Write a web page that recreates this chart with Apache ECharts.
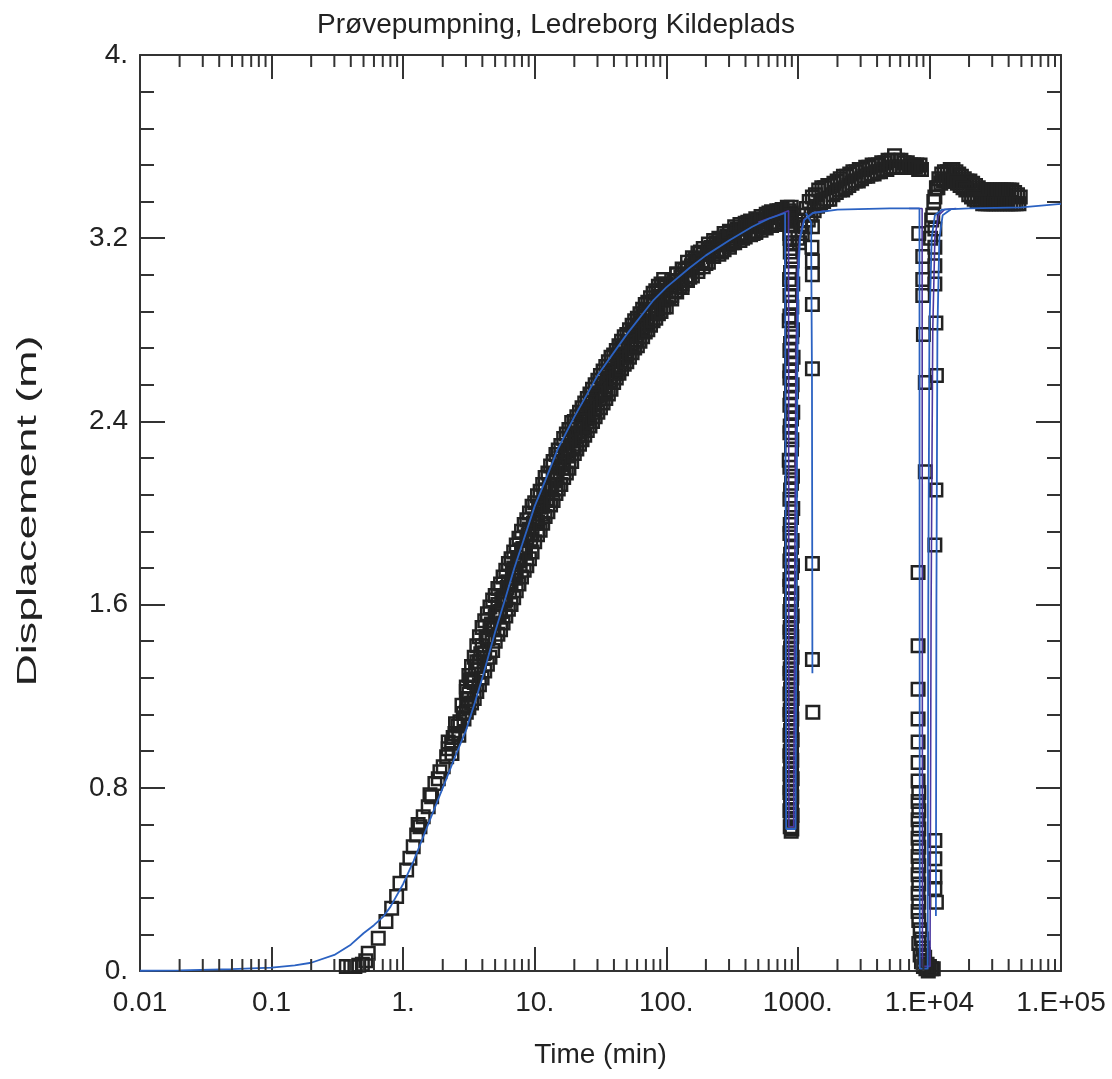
<!DOCTYPE html>
<html>
<head>
<meta charset="utf-8">
<script src="https://cdn.jsdelivr.net/npm/echarts@6/dist/echarts.min.js"></script>
<style>
html,body{margin:0;padding:0;background:#fff;}
#chart{width:1112px;height:1079px;}
</style>
</head>
<body>
<div id="chart"></div>
<script>
// ---------- axis labels ----------
const chartTitle = 'Prøvepumpning, Ledreborg Kildeplads';
const xName = 'Time (min)';
const yName = 'Displacement (m)';
const xLabels = ['0.01','0.1','1.','10.','100.','1000.','1.E+04','1.E+05'];
const yLabels = ['0.','0.8','1.6','2.4','3.2','4.'];
const decades = [0.01,0.1,1,10,100,1000,10000];
const minorMultipliers = [2,3,4,5,6,7,8,9];

// ---------- observed data (time [min], displacement [m]) ----------
const obsEarly = [
  [0.37,0.02],[0.40,0.02],[0.43,0.02],[0.46,0.025],[0.49,0.03],[0.52,0.045],
  [0.543,0.077],[0.647,0.143],[0.74,0.216],[0.818,0.274],[0.892,0.325],[0.946,0.383],
  [1.063,0.441],[1.126,0.492],[1.193,0.543],[1.267,0.594],[1.342,0.630],[1.421,0.674],
  [1.551,0.717],[1.647,0.761],[1.744,0.819],[1.904,0.870],[2.017,0.892],[2.141,0.936],
  [2.336,0.994],[2.475,1.037],[2.701,1.088],[2.862,1.125],[3.038,1.161],
  [1.30,0.64],[1.60,0.77],[2.20,0.97],[2.60,1.07],[1.85,0.84],[2.40,1.02],
  [2.20,1.00],[2.50,1.08],[2.80,1.16],[2.35,0.95],[2.65,1.03],[2.90,1.10]
];
const obsRise = [
  [3.02,1.22],[3.16,1.21],[3.31,1.27],[3.47,1.26],[3.63,1.35],[3.80,1.35],[3.98,1.42],[4.17,1.39],
  [4.37,1.45],[4.57,1.50],[4.79,1.49],[5.01,1.55],[5.25,1.60],[5.50,1.57],[5.75,1.63],[6.03,1.62],
  [6.31,1.70],[6.61,1.69],[6.92,1.76],[7.24,1.73],[7.59,1.79],[7.94,1.84],[8.32,1.83],[8.71,1.88],
  [9.12,1.93],[9.55,1.91],[10.0,1.97],[10.5,1.96],[11.0,2.03],[11.5,2.03],[12.0,2.10],[12.6,2.06],
  [13.2,2.12],[13.8,2.16],[14.5,2.15],[15.1,2.20],[15.8,2.24],[16.6,2.22],[17.4,2.27],[18.2,2.25],
  [19.1,2.33],[20.0,2.32],[20.9,2.38],[21.9,2.34],[22.9,2.39],[24.0,2.43],[25.1,2.41],[26.3,2.46],
  [27.5,2.50],[28.8,2.47],[30.2,2.52],[31.6,2.52],[33.1,2.58],[34.7,2.55],[36.3,2.62],[38.0,2.59],
  [39.8,2.64],[41.7,2.62],[43.7,2.69],[45.7,2.68],[47.9,2.73],[50.1,2.69],[52.5,2.77],[55.0,2.74],
  [57.5,2.79],[60.3,2.79],[63.1,2.83],[66.1,2.81],[69.2,2.88],[72.4,2.83],[75.9,2.88],[79.4,2.92],
  [83.2,2.89],[87.1,2.94],[91.2,2.97],[95.5,2.93],[100,2.97],[105,2.94],[110,2.95],[115,3.01],
  [120,3.04],[126,2.99],[132,3.00],[138,3.06],[145,3.07],[151,3.03],[158,3.10],[166,3.11],
  [174,3.07],[182,3.14],[191,3.13],[200,3.09],[209,3.15],[219,3.16],[229,3.12],[240,3.18],
  [251,3.17],[263,3.14],[275,3.20],[288,3.21],[302,3.17],[316,3.18],[331,3.23],[347,3.24],
  [363,3.21],[380,3.20],[398,3.24],[417,3.27],[437,3.26],[457,3.22],[479,3.23],[501,3.28],
  [525,3.28],[550,3.25],[575,3.28],[603,3.31],[631,3.30],[661,3.26],[692,3.27],[724,3.32],
  [759,3.31],[795,3.28],[832,3.29],[860,3.32],[891,3.31]
];
const obsRiseB = [
  [3.09,1.19],[3.24,1.27],[3.39,1.265],[3.55,1.33],[3.72,1.315],[3.89,1.385],[4.07,1.385],[4.27,1.46],
  [4.47,1.455],[4.68,1.515],[4.90,1.50],[5.13,1.565],[5.37,1.56],[5.62,1.625],[5.89,1.615],[6.17,1.675],
  [6.46,1.66],[6.76,1.74],[7.08,1.735],[7.41,1.795],[7.76,1.775],[8.13,1.845],[8.51,1.84],[8.91,1.905],
  [9.33,1.885],[9.77,1.955],[10.2,1.955],[10.7,2.025],[11.2,1.995],[11.7,2.065],[12.3,2.06],[12.9,2.125],
  [13.5,2.10],[14.1,2.165],[14.8,2.16],[15.5,2.225],[16.2,2.195],[17.0,2.26],[17.8,2.25],[18.6,2.315],
  [19.5,2.29],[20.4,2.35],[21.4,2.34],[22.4,2.40],[23.4,2.37],[24.5,2.43],[25.7,2.42],[26.9,2.48],
  [28.2,2.45],[29.5,2.51],[30.9,2.50],[32.4,2.56],[33.9,2.53],[35.5,2.59],[37.2,2.58],[38.9,2.64],
  [40.7,2.61],[42.7,2.67],[44.7,2.66],[46.8,2.72],[49.0,2.685],[51.3,2.74],[53.7,2.73],[56.2,2.79],
  [58.9,2.755],[61.7,2.81],[64.6,2.80],[67.6,2.86],[70.8,2.825],[74.1,2.88],[77.6,2.87],[81.3,2.925],
  [85.1,2.89],[89.1,2.945],[93.3,2.93],[97.7,2.985],[107,2.99],[117,2.97],[129,3.03],[141,3.02],
  [155,3.08],[170,3.09],[186,3.10],[204,3.13],[224,3.14],[245,3.15],[269,3.18],[295,3.19],
  [324,3.20],[355,3.22],[389,3.22],[427,3.25],[468,3.26],[513,3.26],[562,3.27],[617,3.29],
  [676,3.29],[741,3.29],[813,3.31],[876,3.29]
];
// upper-left edge of the scattered band
const obsRiseUpper = [
  [3.02,1.24],[3.16,1.29],[3.31,1.33],[3.47,1.37],[3.63,1.42],[3.80,1.46],[3.98,1.50],[4.17,1.53],
  [4.37,1.56],[4.57,1.59],[4.79,1.62],[5.01,1.64],[5.25,1.67],[5.50,1.69],[5.75,1.72],[6.03,1.75],
  [6.31,1.78],[6.61,1.80],[6.92,1.83],[7.24,1.86],[7.59,1.89],[7.94,1.92],[8.32,1.95],[8.71,1.97],
  [9.12,2.00],[9.55,2.03],[10.0,2.045],[10.5,2.075],[11.0,2.095],[11.5,2.125],[12.0,2.155],[12.6,2.175],
  [13.2,2.205],[13.8,2.225],[14.5,2.255],[15.1,2.275],[15.8,2.295],[16.6,2.325],[17.4,2.345],[18.2,2.365],
  [19.1,2.395],[20.0,2.40],[20.9,2.42],[21.9,2.44],[22.9,2.46],[24.0,2.48],[25.1,2.50],[26.3,2.52],
  [27.5,2.54],[28.8,2.56],[30.2,2.58],[31.6,2.60],[33.1,2.62],[34.7,2.64],[36.3,2.66],[38.0,2.68],
  [39.8,2.69],[41.7,2.71],[43.7,2.73],[45.7,2.75],[47.9,2.77],[50.1,2.78],[52.5,2.80],[55.0,2.82],
  [57.5,2.84],[60.3,2.85],[63.1,2.87],[66.1,2.89],[69.2,2.91],[72.4,2.92],[75.9,2.94],[79.4,2.96],
  [83.2,2.97],[87.1,2.99],[91.2,3.00],[95.5,3.02],[100,3.00],[110,3.015],[120,3.045],[132,3.065],
  [145,3.095],[158,3.115],[174,3.135],[191,3.155],[209,3.175],[229,3.19],[251,3.20],[275,3.22],
  [302,3.23],[331,3.25],[363,3.26],[398,3.265],[437,3.275],[479,3.285],[525,3.295],[575,3.305],
  [631,3.315],[692,3.32],[759,3.325],[832,3.335],[891,3.335]
];
// lower-right edge of the scattered band
const obsRiseLower = [
  [3.02,1.13],[3.16,1.15],[3.31,1.17],[3.47,1.19],[3.63,1.22],[3.80,1.25],[3.98,1.28],[4.17,1.31],
  [4.37,1.34],[4.57,1.37],[4.79,1.40],[5.01,1.44],[5.25,1.47],[5.50,1.49],[5.75,1.52],[6.03,1.55],
  [6.31,1.58],[6.61,1.60],[6.92,1.63],[7.24,1.66],[7.59,1.69],[7.94,1.72],[8.32,1.75],[8.71,1.77],
  [9.12,1.80],[9.55,1.83],[10.0,1.875],[10.5,1.905],[11.0,1.925],[11.5,1.955],[12.0,1.985],[12.6,2.005],
  [13.2,2.035],[13.8,2.055],[14.5,2.085],[15.1,2.105],[15.8,2.125],[16.6,2.155],[17.4,2.175],[18.2,2.195],
  [19.1,2.225],[20.0,2.26],[20.9,2.28],[21.9,2.30],[22.9,2.32],[24.0,2.34],[25.1,2.36],[26.3,2.38],
  [27.5,2.40],[28.8,2.42],[30.2,2.44],[31.6,2.46],[33.1,2.48],[34.7,2.50],[36.3,2.52],[38.0,2.54],
  [39.8,2.57],[41.7,2.59],[43.7,2.61],[45.7,2.63],[47.9,2.65],[50.1,2.66],[52.5,2.68],[55.0,2.70],
  [57.5,2.72],[60.3,2.73],[63.1,2.75],[66.1,2.77],[69.2,2.79],[72.4,2.80],[75.9,2.82],[79.4,2.84],
  [83.2,2.85],[87.1,2.87],[91.2,2.88],[95.5,2.90],[100,2.90],[110,2.935],[120,2.965],[132,2.985],
  [145,3.015],[158,3.035],[174,3.055],[191,3.075],[209,3.095],[229,3.12],[251,3.13],[275,3.15],
  [302,3.16],[331,3.18],[363,3.19],[398,3.205],[437,3.215],[479,3.225],[525,3.235],[575,3.245],
  [631,3.255],[692,3.26],[759,3.265],[832,3.275],[891,3.275]
];
const obsSpike1 = [
  [880,3.30],[900,3.26],[870,3.22],[910,3.18],[875,3.14],[905,3.10],[880,3.05],[915,3.00],
  [870,2.95],[900,2.90],[860,2.84],[910,2.80],[880,2.74],[920,2.68],[870,2.62],[905,2.56],
  [880,2.50],[915,2.44],[875,2.38],[900,2.32],[860,2.23],[910,2.16],[880,2.10],[915,2.02],
  [875,1.95],[905,1.88],[880,1.82],[910,1.77],[870,1.71],[900,1.65],[880,1.60],[905,1.55],
  [875,1.50],[900,1.46],[880,1.41],[905,1.37],[875,1.32],[900,1.28],[880,1.23],[905,1.19],
  [875,1.14],[900,1.10],[880,1.05],[905,1.01],[875,0.96],[900,0.92],[880,0.88],[905,0.84],
  [875,0.80],[900,0.76],[880,0.72],[905,0.68],[885,0.65],[900,0.62],[890,0.61]
];
const obsSpike1B = [
  [895,3.28],[870,3.20],[895,3.12],[865,3.02],[895,2.92],[870,2.86],[900,2.77],[870,2.71],
  [895,2.65],[870,2.59],[895,2.53],[870,2.47],[895,2.41],[870,2.35],[895,2.28],[870,2.20],
  [895,2.13],[870,2.06],[895,1.98],[870,1.91],[895,1.85],[870,1.79],[895,1.74],[870,1.68],
  [895,1.62],[870,1.57],[895,1.52],[870,1.48],[895,1.43],[870,1.39],[895,1.34],[870,1.30],
  [895,1.25],[870,1.21],[895,1.16],[870,1.12],[895,1.07],[870,1.03],[895,0.98],[870,0.94],
  [895,0.90],[870,0.86],[895,0.82],[870,0.78],[895,0.74],[870,0.70],[895,0.66],[875,0.63]
];
const obsSpike2 = [
  [1290,3.25],[1280,3.16],[1290,3.10],[1290,3.04],[1290,2.91],[1290,2.63],[1290,1.78],[1290,1.36],[1300,1.13]
];
const obsTop1 = [
  [1000,3.20],[1050,3.26],[1100,3.30],[1160,3.33],[1220,3.36],[1290,3.38],[1360,3.39],[1440,3.41],
  [1520,3.42],[1600,3.42],[1690,3.43],[1780,3.43],[1880,3.44],[1990,3.45],[2100,3.46],[2220,3.47],
  [2350,3.47],[2480,3.48],[2620,3.49],[2770,3.49],[2930,3.50],[3100,3.50],[3280,3.51],[3470,3.51],
  [3670,3.52],[3880,3.52],[4100,3.52],[4340,3.53],[4590,3.53],[4850,3.54],[5130,3.54],[5430,3.56],
  [5740,3.54],[6070,3.54],[6420,3.53],[6790,3.53],[7180,3.52],[7590,3.52],[8030,3.52],[8490,3.52],
  [1030,3.18],[1080,3.22],[1140,3.25],[1200,3.28],[1260,3.30],[1330,3.32],[1410,3.34],[1490,3.35],
  [1570,3.36],[1660,3.37],[1750,3.37],[1850,3.39],[1960,3.40],[2070,3.41],[2190,3.41],[2310,3.42],
  [2440,3.43],[2580,3.44],[2730,3.45],[2880,3.45],[3050,3.46],[3220,3.47],[3400,3.47],[3600,3.48],
  [3800,3.48],[4020,3.49],[4250,3.49],[4490,3.50],[4750,3.50],[5020,3.51],[5310,3.51],[5610,3.51],
  [5930,3.51],[6270,3.51],[6630,3.51],[7010,3.51],[7410,3.51],[7830,3.51],[8280,3.50],[8700,3.50]
];
const obsSpike3 = [
  [8300,3.22],[8900,3.12],[8900,3.02],[8900,2.95],[9000,2.78],[9300,2.57],[9300,2.18],[8200,1.74],
  [8200,1.42],[8200,1.23],[8200,1.10],[8200,1.00],[8200,0.91],[8200,0.83],[8300,0.78],[8200,0.74],
  [8300,0.70],[8200,0.66],[8300,0.62],[8200,0.58],[8300,0.54],[8200,0.50],[8300,0.46],[8200,0.42],
  [8300,0.38],[8200,0.34],[8300,0.30],[8200,0.26],[8300,0.22],[8500,0.18],[8700,0.14],[8300,0.12],
  [8900,0.10],[8500,0.07],[9200,0.06],[8700,0.04],[9600,0.03],[9000,0.02],[10000,0.02],[9400,0.01],
  [10400,0.01],[9800,0.00],[10700,0.01]
];
const obsSpike4 = [
  [11000,3.24],[11000,3.16],[11000,3.08],[11000,3.00],[11200,2.83],[11300,2.60],[11200,2.10],[11000,1.86],
  [11000,0.57],[11000,0.49],[11000,0.41],[11000,0.36],[11300,0.30]
];
const obsTop2 = [
  [10400,3.28],[10800,3.36],[11300,3.42],[11800,3.46],[12400,3.48],[13000,3.49],[13700,3.49],[14400,3.50],
  [15100,3.50],[15900,3.49],[16700,3.48],[17500,3.47],[18400,3.46],[19300,3.45],[20300,3.45],[21300,3.44],
  [22400,3.43],[23500,3.42],[24700,3.41],[25900,3.41],[27200,3.41],[28600,3.41],[30000,3.41],[31500,3.41],
  [33100,3.41],[34800,3.41],[36500,3.41],[38400,3.41],[40300,3.41],[42300,3.41],[44400,3.40],[46700,3.39],
  [49000,3.38],
  [10200,3.20],[10600,3.30],[11000,3.38],[11600,3.42],[12200,3.44],[12800,3.45],[13400,3.45],[14100,3.45],
  [14800,3.45],[15500,3.45],[16300,3.44],[17100,3.43],[18000,3.42],[18900,3.41],[19900,3.39],[20900,3.38],
  [21900,3.37],[23000,3.36],[24200,3.36],[25400,3.35],[26700,3.35],[28000,3.35],[29400,3.35],[30900,3.35],
  [32400,3.35],[34000,3.35],[35700,3.35],[37500,3.35],[39400,3.35],[41400,3.35],[43500,3.35],[45600,3.35],
  [47900,3.35]
];

// ---------- fitted model curves ----------
const modelMain = [
  [0.01,0.001],[0.02,0.003],[0.05,0.008],[0.1,0.015],[0.15,0.025],[0.2,0.036],[0.3,0.07],[0.4,0.115],
  [0.5,0.165],[0.6,0.2],[0.7,0.235],[0.8,0.28],[1,0.38],[1.2,0.48],[1.5,0.62],[2,0.8],[2.5,0.94],
  [3,1.05],[3.5,1.17],[4,1.28],[5,1.48],[6,1.63],[7,1.76],[8,1.86],[10,2.03],[12,2.14],[15,2.28],
  [20,2.42],[30,2.60],[50,2.78],[80,2.93],[100,2.985],[150,3.07],[200,3.125],[300,3.19],[450,3.25],
  [600,3.285],[800,3.31],[812,3.31],[815,0.62],[960,0.62],[975,1.6],[990,2.6],[1010,3.05],[1040,3.2],
  [1120,3.28],[1300,3.31],[2000,3.325],[5000,3.33],[8400,3.33],[8450,0.01],[9700,0.01],[9800,1.6],
  [10000,2.8],[10400,3.2],[11000,3.3],[12500,3.325],[20000,3.33],[50000,3.335],[100000,3.35]
];
const modelPurpleA = [
  [500,3.27],[700,3.30],[850,3.32],[855,0.63],[930,0.63],[945,1.6],[965,2.6],[990,3.05],
  [1030,3.2],[1110,3.28],[1300,3.31],[1600,3.32]
];
const modelPurpleB = [
  [7000,3.33],[8800,3.33],[8850,0.02],[10100,0.02],[10300,1.6],[10600,2.8],[11000,3.2],
  [11700,3.3],[13000,3.325],[16000,3.33]
];
const modelPartial = [[1150,3.31],[1260,3.27],[1280,2.6],[1290,1.3]];
const modelLate = [[11200,0.24],[11300,1.6],[11500,2.8],[11900,3.2],[12600,3.3],[14500,3.325]];

// ---------- build ----------
const minorTicks = [];
decades.forEach(d => minorMultipliers.forEach(m => minorTicks.push([d * m, 0])));
const observations = [].concat(obsEarly, obsRise, obsRiseB, obsRiseUpper, obsRiseLower, obsSpike1, obsSpike1B,
  obsSpike2, obsTop1, obsSpike3, obsSpike4, obsTop2);

const FONT = '"Liberation Sans", Arial, Helvetica, sans-serif';
const AX = '#333';
const TXT = '#222';
const FS = 28;

function xFmt(v) {
  const i = Math.round(Math.log10(v)) + 2;
  return xLabels[i] !== undefined ? xLabels[i] : '';
}
function yFmt(v) {
  const i = Math.round(v / 0.8);
  return yLabels[i] !== undefined ? yLabels[i] : '';
}

const baseX = {
  type: 'log', logBase: 10, min: 0.01, max: 100000, splitNumber: 7,
  axisLine: { show: true, onZero: false, lineStyle: { color: AX, width: 2 } },
  axisTick: { show: true, inside: true, length: 24, lineStyle: { color: AX, width: 2 } },
  splitLine: { show: false }, minorTick: { show: false }
};
const baseY = {
  type: 'value', min: 0, max: 4, interval: 0.8,
  axisLine: { show: true, onZero: false, lineStyle: { color: AX, width: 2 } },
  axisTick: { show: true, inside: true, length: 25, lineStyle: { color: AX, width: 2 } },
  minorTick: { show: true, splitNumber: 5, length: 14, lineStyle: { color: AX, width: 2 } },
  splitLine: { show: false }
};

const chart = echarts.init(document.getElementById('chart'), null, { renderer: 'canvas' });
const option = {
  animation: false,
  backgroundColor: '#ffffff',
  title: {
    text: chartTitle, left: 'center', top: 6,
    textStyle: { fontFamily: FONT, fontSize: FS, fontWeight: 'normal', color: TXT }
  },
  graphic: [{
    type: 'text', x: 28, y: 511, rotation: Math.PI / 2, scaleX: 1.6, scaleY: 1,
    style: {
      text: yName, fontFamily: FONT, fontSize: FS, fill: TXT,
      textAlign: 'center', textVerticalAlign: 'middle'
    }
  }],
  grid: { left: 140, right: 51, top: 55, bottom: 108, containLabel: false },
  xAxis: [
    Object.assign({}, baseX, {
      position: 'bottom',
      name: xName, nameLocation: 'middle', nameGap: 70,
      nameTextStyle: { fontFamily: FONT, fontSize: FS, color: TXT },
      axisLabel: { show: true, formatter: xFmt, fontFamily: FONT, fontSize: FS, color: TXT, margin: 18 }
    }),
    Object.assign({}, baseX, { position: 'top', axisLabel: { show: false } })
  ],
  yAxis: [
    Object.assign({}, baseY, {
      position: 'left',
      axisLabel: { show: true, formatter: yFmt, fontFamily: FONT, fontSize: FS, color: TXT, margin: 12 }
    }),
    Object.assign({}, baseY, { position: 'right', axisLabel: { show: false } })
  ],
  series: [
    {
      type: 'custom', xAxisIndex: 0, yAxisIndex: 0, data: minorTicks, clip: false, silent: true, z: 5,
      encode: { x: 0, y: 1 },
      renderItem: function (params, api) {
        const t = api.value(0);
        const pb = api.coord([t, 0]);
        const pt = api.coord([t, 4]);
        return {
          type: 'group',
          children: [
            { type: 'line', shape: { x1: pb[0], y1: pb[1], x2: pb[0], y2: pb[1] - 12 }, style: { stroke: AX, lineWidth: 2 } },
            { type: 'line', shape: { x1: pt[0], y1: pt[1], x2: pt[0], y2: pt[1] + 12 }, style: { stroke: AX, lineWidth: 2 } }
          ]
        };
      }
    },
    {
      type: 'scatter', data: observations, symbol: 'rect', symbolSize: 12.5, z: 2, large: false,
      itemStyle: { color: 'rgba(0,0,0,0)', borderColor: '#222', borderWidth: 2.5, opacity: 1 },
      emphasis: { disabled: true }
    },
    { type: 'line', data: modelPurpleA, showSymbol: false, z: 3, lineStyle: { color: '#4a37a0', width: 1.6 } },
    { type: 'line', data: modelPurpleB, showSymbol: false, z: 3, lineStyle: { color: '#4a37a0', width: 1.6 } },
    { type: 'line', data: modelPartial, showSymbol: false, z: 3, lineStyle: { color: '#2b62c2', width: 1.8 } },
    { type: 'line', data: modelLate, showSymbol: false, z: 3, lineStyle: { color: '#2b62c2', width: 1.8 } },
    { type: 'line', data: modelMain, showSymbol: false, z: 4, lineStyle: { color: '#2b62c2', width: 1.8 } }
  ]
};
chart.setOption(option);
</script>
</body>
</html>
